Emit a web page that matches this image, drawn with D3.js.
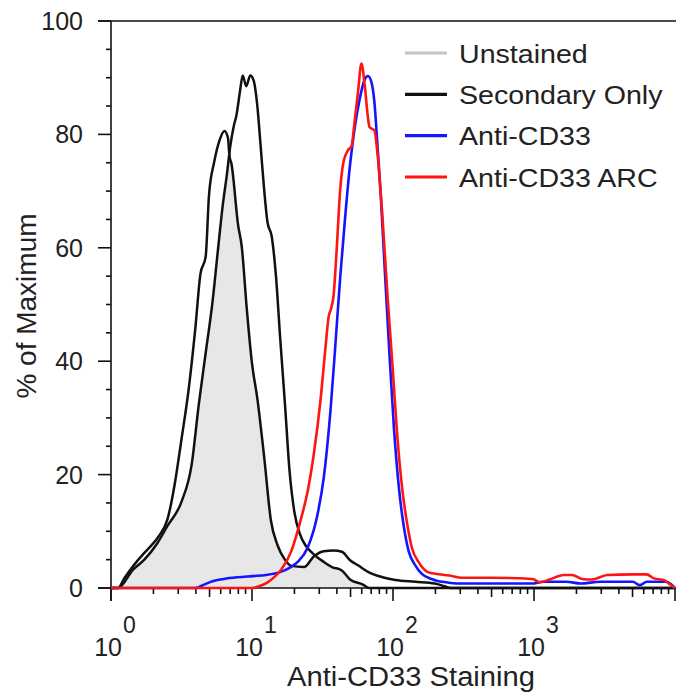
<!DOCTYPE html>
<html>
<head>
<meta charset="utf-8">
<script src="https://cdn.jsdelivr.net/npm/d3@7"></script>
<style>
  html, body { margin: 0; padding: 0; background: #ffffff; }
  svg { display: block; }
  text { font-family: "Liberation Sans", Arial, sans-serif; fill: #222; }
</style>
</head>
<body>
<svg id="chart" width="676" height="696"></svg>
<script>
// ---------------- DATA ----------------
const seriesNames = ["Unstained", "Secondary Only", "Anti-CD33", "Anti-CD33 ARC"];
const seriesColors = ["#c4c4c4", "#111111", "#1414ff", "#ff1414"];

const yTickValues = [0, 20, 40, 60, 80, 100];
const xDecades = [1, 10, 100, 1000];
const xDecadeExponents = ["0", "1", "2", "3"];

// Unstained (grey-filled histogram, peak ~80%)
const unstainedX = [1, 1.12, 1.25, 1.44, 1.71, 1.9, 2.19, 2.52, 2.83, 3.16, 3.54, 3.96, 4.31, 4.69, 4.96, 5.4, 5.86, 6.38, 6.75, 6.93, 7.14, 7.98, 8.45, 9.18, 10, 10.9, 12.2, 13.6, 15.2, 17.1, 19, 23.4, 27.5, 32.3, 37.9, 43.4, 49.6, 56.5, 68.1, 84.3, 104, 144, 198, 232, 257, 10000];
const unstainedY = [0, 0, 1.8, 3.9, 6.1, 7.3, 9.2, 12.2, 18.3, 26.2, 34.7, 45.7, 55.4, 58.4, 69.4, 75.2, 78.8, 80.6, 79.4, 76.1, 74.9, 63.9, 60.3, 49.3, 39.6, 33.5, 23.1, 12, 7.5, 5, 3.9, 3.7, 5.6, 6.5, 6.6, 6.4, 4.9, 4.0, 2.7, 1.9, 1.4, 1.1, 0.8, 0.3, 0, 0];

// Secondary Only (peak ~90%)
const secondaryX = [1, 1.12, 1.44, 1.71, 2.13, 2.52, 3.16, 3.74, 4.19, 4.69, 5.25, 5.7, 6.21, 6.64, 7.01, 7.43, 7.76, 8.22, 8.59, 9.1, 9.72, 10.28, 10.89, 11.51, 12.16, 12.88, 13.8, 14.79, 15.85, 17.18, 18.41, 19.95, 21.88, 23.99, 27.54, 32.28, 36.9, 43.35, 49.55, 61.24, 67.61, 10000];
const secondaryY = [0, 0, 3.3, 4.9, 7.9, 11, 15.2, 21.9, 32.3, 41.4, 50.5, 59, 67.6, 73, 77.9, 81.5, 83.4, 87.6, 90.4, 88.5, 90.4, 89.5, 85.2, 78, 70.6, 64.5, 62, 55, 44, 32, 21, 13.5, 9.5, 7.5, 5.9, 4.6, 3.7, 3.1, 1.5, 0.6, 0, 0];

// Anti-CD33 (blue)
const antiX = [1, 3.98, 4.57, 5.25, 6.31, 7.94, 10, 12.6, 15.8, 18.6, 21.1, 24.8, 29, 32.3, 36, 38.9, 42.2, 45.7, 49.5, 53.6, 58.1, 63, 66.4, 70, 73.8, 77.8, 82, 86.7, 93.8, 101.6, 110.2, 119.4, 129.1, 143.9, 160, 187.5, 204, 240, 282, 575, 1000, 1148, 1698, 2138, 2951, 5012, 5623, 6310, 8710, 10000];
const antiY = [0, 0, 0.6, 1.2, 1.6, 1.9, 2.1, 2.3, 2.8, 3.6, 4.6, 7.1, 12.7, 19.5, 31.2, 42.4, 54.7, 65.2, 74.5, 81.3, 86.3, 89.7, 90.3, 89.4, 85.7, 77.6, 69, 57.8, 42.4, 28.1, 17.6, 10.8, 6.5, 4.0, 2.5, 1.6, 1.3, 1.0, 0.8, 0.8, 0.8, 1.1, 1.1, 0.8, 1.1, 1.1, 0.5, 1.1, 1.1, 0];

// Anti-CD33 ARC (red)
const arcX = [1, 10, 11.2, 12.9, 14.5, 16.1, 19, 22.2, 24.8, 27.5, 30.6, 33.2, 35, 36.3, 37.9, 40, 42.2, 44.5, 48.2, 50.8, 53.6, 56.5, 59.7, 63, 66.4, 68.1, 73.8, 77.8, 84.3, 91.4, 99.1, 107.2, 116.1, 125.9, 136.1, 151.7, 173.8, 190.5, 251, 309, 490, 977, 1096, 1288, 1622, 1862, 2188, 2570, 3311, 5012, 6310, 7079, 8318, 9120, 10000];
const arcY = [0, 0, 0.3, 1.0, 2.0, 3.2, 6.5, 12.1, 17, 23.8, 33.1, 42.4, 47.9, 49.2, 51.6, 60.3, 70.2, 75.1, 77.3, 77.9, 82.6, 87.5, 92.5, 88.7, 83, 81.3, 80.7, 76.4, 65.2, 51.6, 39.3, 26.9, 17.6, 11.4, 7.1, 4.6, 2.9, 2.6, 2.2, 1.8, 1.8, 1.6, 1.0, 1.5, 2.3, 2.3, 1.6, 1.5, 2.3, 2.4, 2.4, 1.7, 1.4, 0.7, 0];

// ---------------- CHART ----------------
const svg = d3.select("#chart");
const x = d3.scaleLog().domain([1, 10000]).range([111, 675]);
const y = d3.scaleLinear().domain([0, 100]).range([588, 21]);

const toPts = (xs, ys) => xs.map((v, i) => [v, ys[i]]);
const line = d3.line().x(d => x(d[0])).y(d => y(d[1])).curve(d3.curveMonotoneX);
const area = d3.area().x(d => x(d[0])).y0(y(0)).y1(d => y(d[1])).curve(d3.curveMonotoneX);

const uPts = toPts(unstainedX, unstainedY);
const sPts = toPts(secondaryX, secondaryY);
const aPts = toPts(antiX, antiY);
const rPts = toPts(arcX, arcY);

// grey fill (overlap region of the two control histograms)
svg.append("defs").append("clipPath").attr("id", "secClip")
  .append("path").attr("d", area(sPts));
svg.append("path").attr("d", area(uPts))
  .attr("fill", "#e7e7e7").attr("clip-path", "url(#secClip)");

// axes frame
const axisG = svg.append("g").attr("stroke", "#111").attr("stroke-width", 1.6);
axisG.append("line").attr("x1", 98).attr("x2", 676).attr("y1", y(100)).attr("y2", y(100));
axisG.append("line").attr("x1", 98).attr("x2", 676).attr("y1", y(0)).attr("y2", y(0));
axisG.append("line").attr("x1", x(1)).attr("x2", x(1)).attr("y1", y(100)).attr("y2", y(0) + 13);

// y ticks
const yMinor = d3.range(0, 101, 5);
axisG.selectAll(".ytick").data(yMinor).enter().append("line")
  .attr("x1", d => d % 20 === 0 ? 98 : 106).attr("x2", x(1))
  .attr("y1", d => y(d)).attr("y2", d => y(d));
svg.selectAll(".ylab").data(yTickValues).enter().append("text")
  .attr("x", 83).attr("y", d => y(d) + 9)
  .attr("text-anchor", "end").attr("font-size", 25).text(d => d);

// x ticks
const xt = x.ticks();
axisG.selectAll(".xtick").data(xt).enter().append("line")
  .attr("x1", d => x(d)).attr("x2", d => x(d))
  .attr("y1", y(0))
  .attr("y2", d => {
    const m = d / Math.pow(10, Math.floor(Math.log10(d) + 1e-9));
    return y(0) + (Math.abs(m - 1) < 1e-6 ? 13 : (Math.abs(m - 5) < 1e-6 ? 9 : 6));
  });
const xl = svg.selectAll(".xlab").data(xDecades).enter().append("g")
  .attr("transform", d => `translate(${x(d)},0)`);
xl.append("text").attr("x", 11).attr("y", 656).attr("text-anchor", "end")
  .attr("font-size", 25).text("10");
xl.append("text").attr("x", 12).attr("y", 633).attr("text-anchor", "start")
  .attr("font-size", 23).text((d, i) => xDecadeExponents[i]);

// curves
const curveG = svg.append("g").attr("fill", "none").attr("stroke-linejoin", "round");
curveG.append("path").attr("d", line(uPts)).attr("stroke", "#111").attr("stroke-width", 2.5);
curveG.append("path").attr("d", line(sPts)).attr("stroke", "#111").attr("stroke-width", 2.5);
curveG.append("path").attr("d", line(aPts)).attr("stroke", seriesColors[2]).attr("stroke-width", 2.6);
curveG.append("path").attr("d", line(rPts)).attr("stroke", seriesColors[3]).attr("stroke-width", 2.6);

// axis titles
svg.append("text").attr("x", 411).attr("y", 686).attr("text-anchor", "middle")
  .attr("font-size", 27).attr("transform", "translate(411,0) scale(1.08,1) translate(-411,0)")
  .text("Anti-CD33 Staining");
svg.append("text").attr("transform", "translate(36,306) rotate(-90)")
  .attr("text-anchor", "middle").attr("font-size", 28).text("% of Maximum");

// legend
const legY = [53, 94.3, 135.6, 177];
const leg = svg.selectAll(".leg").data(seriesNames).enter().append("g")
  .attr("transform", (d, i) => `translate(405,${legY[i]})`);
leg.append("line").attr("x1", 0).attr("x2", 42).attr("y1", 0).attr("y2", 0)
  .attr("stroke", (d, i) => seriesColors[i]).attr("stroke-width", 3.2);
leg.append("text").attr("transform", "translate(54,9.5) scale(1.1,1)")
  .attr("font-size", 26).text(d => d);
</script>
</body>
</html>
